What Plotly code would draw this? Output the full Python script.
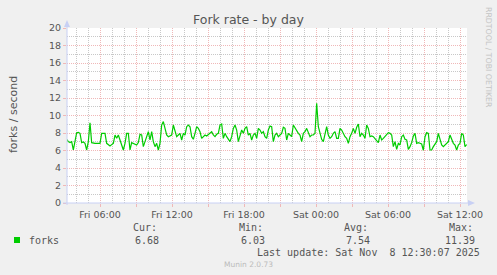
import pandas as pd
import plotly.graph_objects as go

# ---- data ----
series_start = "2025-11-07 03:13:20"
sample_seconds = 500
forks = [
    7.28, 7.01, 6.90, 7.01, 6.06, 7.01, 8.04, 8.08, 7.96, 6.90, 6.97, 6.82, 6.06, 7.01, 9.18, 6.90,
    6.82, 6.82, 6.82, 6.82, 6.82, 7.96, 7.96, 7.96, 6.82, 6.63, 6.51, 6.67, 6.82, 7.77, 7.39, 7.77,
    7.20, 6.63, 6.06, 6.82, 7.96, 7.96, 6.06, 6.90, 6.82, 6.70, 6.63, 6.90, 7.85, 7.77, 6.44, 7.01,
    7.58, 8.15, 7.20, 8.15, 7.01, 6.44, 6.82, 6.06, 6.82, 8.91, 9.30, 8.34, 7.77, 7.58, 7.66, 7.77,
    8.91, 8.34, 7.58, 7.77, 7.96, 7.20, 7.96, 7.77, 8.72, 8.91, 8.72, 7.58, 7.28, 7.96, 8.72, 8.53,
    8.15, 7.39, 7.58, 7.77, 7.66, 7.81, 7.96, 8.15, 7.77, 7.58, 7.85, 7.96, 8.91, 9.03, 7.39, 7.96,
    7.58, 7.28, 7.01, 7.58, 8.53, 8.91, 8.34, 7.01, 7.58, 8.34, 7.96, 8.53, 8.72, 7.77, 7.96,
    7.20, 7.77, 7.96, 7.39, 8.53, 8.34, 7.96, 8.15, 7.58, 7.39, 8.34, 8.80, 8.72, 7.01, 7.77, 7.96,
    7.58, 7.77, 7.96, 8.65, 8.53, 7.20, 7.96, 7.77, 7.58, 8.91, 8.53, 8.34, 7.96, 7.77, 7.01, 7.96,
    8.15, 8.53, 7.96, 7.58, 7.77, 7.77, 7.96, 11.39, 8.72, 7.96, 7.28, 7.01, 7.96, 8.72, 7.77, 7.39,
    7.58, 7.96, 8.15, 7.39, 7.39, 8.53, 8.34, 7.96, 7.58, 7.39, 6.82, 7.58, 7.96, 8.53, 7.96, 8.65,
    9.03, 7.58, 7.96, 7.77, 7.39, 8.91, 8.53, 7.58, 7.66, 7.58, 7.39, 7.20, 6.90, 7.77, 7.20, 7.39,
    7.58, 7.77, 8.04, 7.96, 7.77, 6.44, 7.01, 6.13, 6.82, 6.63, 7.58, 7.77, 7.28, 7.20, 6.13, 6.44,
    6.90, 7.66, 7.96, 6.82, 6.90, 6.82, 6.74, 6.03, 7.58, 8.04, 7.96, 6.06, 6.06, 6.44, 6.82, 7.01,
    7.96, 7.20, 6.63, 6.44, 6.63, 6.82, 7.01, 7.77, 7.20, 6.82, 6.63, 6.06, 6.63, 6.82, 7.96, 7.77,
    6.44, 6.68,
]
x_range = ["2025-11-07 03:15", "2025-11-08 12:35"]
major_ticks = ["2025-11-07 06:00", "2025-11-07 09:00", "2025-11-07 12:00", "2025-11-07 15:00",
               "2025-11-07 18:00", "2025-11-07 21:00", "2025-11-08 00:00", "2025-11-08 03:00",
               "2025-11-08 06:00", "2025-11-08 09:00", "2025-11-08 12:00"]
major_text = ["Fri 06:00", "", "Fri 12:00", "", "Fri 18:00", "", "Sat 00:00", "", "Sat 06:00", "", "Sat 12:00"]
legend_name = "forks"
stat_labels = ["Cur:", "Min:", "Avg:", "Max:"]
stat_values = ["6.68", "6.03", "7.54", "11.39"]
last_update = "Last update: Sat Nov\u00a0\u00a08 12:30:07 2025"

times = pd.date_range(series_start, periods=len(forks), freq=f"{sample_seconds}s")

# ---- layout helpers (pixel -> paper) ----
L, T, W, H = 67, 28, 400, 175
def px(x): return (x - L) / W
def py(y): return (T + H - y) / H

GREEN = "#00CC00"
TXT = "#555555"
MAJ = "#F0B8B8"
MIN = "#C8C8C8"
AXIS = "#C8D0F4"

fig = go.Figure()
fig.add_trace(go.Scatter(x=times, y=forks, mode="lines",
                         line=dict(color=GREEN, width=1.2), showlegend=False, hoverinfo="skip"))

fig.update_layout(
    width=497, height=275,
    margin=dict(l=L, r=497 - L - W, t=T, b=275 - T - H),
    paper_bgcolor="#F0F0F0", plot_bgcolor="#FFFFFF",
    font=dict(family="DejaVu Sans", size=9.5, color=TXT),
)
fig.update_xaxes(
    type="date", range=x_range,
    tickmode="array", tickvals=major_ticks, ticktext=major_text,
    showgrid=True, gridcolor=MAJ, griddash="1px,1px", gridwidth=1,
    ticks="outside", ticklen=3, tickcolor=MAJ,
    showline=False, zeroline=False,
    tickfont=dict(size=9.5, color=TXT),
    minor=dict(dtick=3600000, tick0="2025-11-07 00:00", showgrid=True,
               gridcolor=MIN, griddash="1px,1px", gridwidth=1, ticks=""),
)
fig.update_yaxes(
    range=[0, 20], dtick=2, tick0=0,
    showgrid=True, gridcolor=MAJ, griddash="1px,1px", gridwidth=1,
    ticks="outside", ticklen=3, tickcolor=MAJ,
    showline=False, zeroline=False,
    tickfont=dict(size=9.5, color=TXT),
    minor=dict(dtick=1, showgrid=True, gridcolor=MIN, griddash="1px,1px", gridwidth=1, ticks=""),
)

shapes = [
    # axes with arrows
    dict(type="line", xref="paper", yref="paper", x0=px(67), x1=px(67), y0=py(205), y1=py(23),
         line=dict(color=AXIS, width=1)),
    dict(type="path", xref="paper", yref="paper",
         path=f"M {px(64)},{py(27)} L {px(67)},{py(20)} L {px(70)},{py(27)} Z",
         fillcolor=AXIS, line=dict(color=AXIS, width=0)),
    dict(type="line", xref="paper", yref="paper", x0=px(63), x1=px(470), y0=py(203), y1=py(203),
         line=dict(color=AXIS, width=1)),
    dict(type="path", xref="paper", yref="paper",
         path=f"M {px(468)},{py(200)} L {px(475)},{py(203)} L {px(468)},{py(206)} Z",
         fillcolor=AXIS, line=dict(color=AXIS, width=0)),
    # legend swatch
    dict(type="rect", xref="paper", yref="paper", x0=px(14), x1=px(20), y0=py(237), y1=py(243),
         fillcolor=GREEN, line=dict(width=0)),
]
fig.update_layout(shapes=shapes)

mono = dict(family="DejaVu Sans Mono", size=10, color=TXT)
ann = [
    dict(text="Fork rate - by day", x=px(248), y=py(19), xanchor="center", yanchor="middle",
         font=dict(family="DejaVu Sans", size=12.5, color=TXT)),
    dict(text="forks / second", x=px(13), y=py(115), xanchor="center", yanchor="middle",
         textangle=-90, font=dict(family="DejaVu Sans", size=11, color=TXT)),
    dict(text="RRDTOOL / TOBI OETIKER", x=px(488.5), y=py(5), xanchor="center", yanchor="top",
         textangle=90, font=dict(family="DejaVu Sans", size=7.8, color="#C4C4C4")),
    dict(text=legend_name, x=px(27), y=py(240), xanchor="left", yanchor="middle", font=mono),
    dict(text=last_update, x=px(482), y=py(253), xanchor="right", yanchor="middle", font=mono),
    dict(text="Munin 2.0.73", x=px(248), y=py(264), xanchor="center", yanchor="middle",
         font=dict(family="DejaVu Sans", size=7.5, color="#BBBBBB")),
]
label_x = [131, 237, 342, 447]
value_x = [161, 267, 372, 477]
for lab, val, lx, vx in zip(stat_labels, stat_values, label_x, value_x):
    ann.append(dict(text=lab, x=px(lx), y=py(227), xanchor="left", yanchor="middle", font=mono))
    ann.append(dict(text=val, x=px(vx), y=py(240), xanchor="right", yanchor="middle", font=mono))
for a in ann:
    a.update(xref="paper", yref="paper", showarrow=False)
fig.update_layout(annotations=ann)

fig.write_html("out.html")
